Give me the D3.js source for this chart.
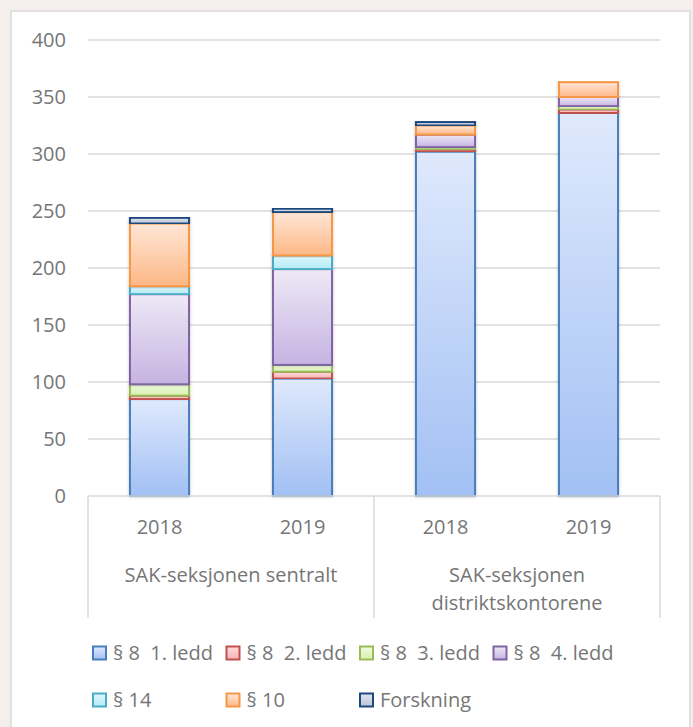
<!DOCTYPE html>
<html lang="no">
<head>
  <meta charset="UTF-8" />
  <title>SAK-seksjonen</title>
  <script src="https://d3js.org/d3.v7.min.js"></script>
  <style>
    body { margin: 0; padding: 0; background: #f4efed; overflow: hidden; }
    svg { display: block; font-family: "Open Sans", sans-serif; }
    .tick-label, .cat-label, .legend-label { fill: #767676; font-size: 20px; }
    .legend-label { white-space: pre; }
  </style>
</head>
<body>
<svg id="chart" width="693" height="727"></svg>
<script>
  // Data
  const years = ["2018", "2019", "2018", "2019"];
  const groups = [["SAK-seksjonen sentralt"], ["SAK-seksjonen", "distriktskontorene"]];
  const seriesNames = ["§ 8  1. ledd", "§ 8  2. ledd", "§ 8  3. ledd", "§ 8  4. ledd", "§ 14", "§ 10", "Forskning"];
  const ledd1 = [85, 103, 302, 336];
  const ledd2 = [3, 6, 2, 3];
  const ledd3 = [10, 6, 2, 3];
  const ledd4 = [79, 84, 11, 8];
  const par14 = [7, 12, 0, 0];
  const par10 = [55, 38, 8, 13];
  const forskning = [5, 3, 3, 0];
  const yTicks = [0, 50, 100, 150, 200, 250, 300, 350, 400];

  // Colours: [stroke, gradient top, gradient bottom]
  const colors = [
    ["#4a7ebb", "#dfe9fc", "#a2c0f4"],
    ["#c0504d", "#ffdcdc", "#f7b3b2"],
    ["#9bbb59", "#f0fbe0", "#d7f0b0"],
    ["#8064a2", "#eee9f6", "#c6b3e2"],
    ["#4bacc6", "#e0f8fd", "#b4ebf6"],
    ["#f79646", "#ffe6d6", "#fdb886"],
    ["#1f497d", "#e1e6ee", "#b9c4d4"]
  ];

  const allSeries = [ledd1, ledd2, ledd3, ledd4, par14, par10, forskning];
  const rows = years.map((yr, i) => {
    const r = { i };
    allSeries.forEach((s, k) => r["s" + k] = s[i]);
    return r;
  });
  const keys = allSeries.map((s, k) => "s" + k);

  const svg = d3.select("#chart");
  const defs = svg.append("defs");

  colors.forEach((c, k) => {
    const g = defs.append("linearGradient").attr("id", "grad" + k)
      .attr("x1", 0).attr("y1", 0).attr("x2", 0).attr("y2", 1);
    g.append("stop").attr("offset", "0%").attr("stop-color", c[1]);
    g.append("stop").attr("offset", "100%").attr("stop-color", c[2]);
  });
  const f = defs.append("filter").attr("id", "shadow").attr("x", "-20%").attr("y", "-5%").attr("width", "140%").attr("height", "110%");
  f.append("feDropShadow").attr("dx", 0).attr("dy", 0).attr("stdDeviation", 1.5)
    .attr("flood-color", "#000").attr("flood-opacity", 0.25);

  // Panel
  svg.append("rect").attr("x", 11).attr("y", 11).attr("width", 679).attr("height", 740)
    .attr("fill", "#fff").attr("stroke", "#d9d9d9").attr("stroke-width", 1.5);

  const plotL = 88, plotR = 660, plotT = 40, plotB = 496;
  const x = d3.scaleBand().domain(d3.range(years.length)).range([plotL, plotR])
    .paddingInner(0.587).paddingOuter(0.2935);
  const y = d3.scaleLinear().domain([0, 400]).range([plotB, plotT]);

  // Gridlines + y labels
  svg.append("g").selectAll("line").data(yTicks.filter(d => d > 0)).enter().append("line")
    .attr("x1", plotL).attr("x2", plotR)
    .attr("y1", d => y(d)).attr("y2", d => y(d))
    .attr("stroke", "#d9d9d9").attr("stroke-width", 1.5);
  svg.append("g").selectAll("text").data(yTicks).enter().append("text")
    .attr("class", "tick-label")
    .attr("x", 66).attr("y", d => y(d)).attr("dy", "0.35em")
    .attr("text-anchor", "end").text(d => d);

  // Bars
  const stacked = d3.stack().keys(keys)(rows);
  const layers = svg.append("g").selectAll("g").data(stacked).enter().append("g");
  layers.selectAll("rect").data((d, k) => d.map(p => ({ p, k })).filter(o => o.p[1] - o.p[0] > 0))
    .enter().append("rect")
    .attr("x", o => x(o.p.data.i))
    .attr("width", x.bandwidth())
    .attr("y", o => y(o.p[1]))
    .attr("height", o => y(o.p[0]) - y(o.p[1]))
    .attr("fill", o => `url(#grad${o.k})`)
    .attr("stroke", o => colors[o.k][0])
    .attr("stroke-width", 2)
    .attr("filter", "url(#shadow)");

  // Category axis
  const axis = svg.append("g").attr("stroke", "#d9d9d9").attr("stroke-width", 1.5);
  axis.append("line").attr("x1", plotL).attr("x2", plotR).attr("y1", plotB).attr("y2", plotB);
  [plotL, (plotL + plotR) / 2, plotR].forEach(xx => {
    axis.append("line").attr("x1", xx).attr("x2", xx).attr("y1", plotB).attr("y2", 618);
  });
  svg.append("g").selectAll("text").data(years).enter().append("text")
    .attr("class", "cat-label")
    .attr("x", (d, i) => x(i) + x.bandwidth() / 2).attr("y", 527).attr("dy", "0.35em")
    .attr("text-anchor", "middle").text(d => d);
  const half = (plotR - plotL) / 2;
  groups.forEach((lines, gi) => {
    lines.forEach((t, li) => {
      svg.append("text").attr("class", "cat-label")
        .attr("x", plotL + half * gi + half / 2).attr("y", 575 + li * 28).attr("dy", "0.35em")
        .attr("text-anchor", "middle").text(t);
    });
  });

  // Legend
  const legend = svg.append("g");
  seriesNames.forEach((name, k) => {
    const col = k < 4 ? k : k - 4, row = k < 4 ? 0 : 1;
    const lx = 93 + col * 133.5, ly = row === 0 ? 653 : 700;
    legend.append("rect").attr("x", lx).attr("y", ly - 6.5).attr("width", 13).attr("height", 13)
      .attr("fill", `url(#grad${k})`).attr("stroke", colors[k][0]).attr("stroke-width", 2);
    legend.append("text").attr("class", "legend-label")
      .attr("x", lx + 20).attr("y", ly).attr("dy", "0.35em").text(name);
  });
</script>
</body>
</html>
